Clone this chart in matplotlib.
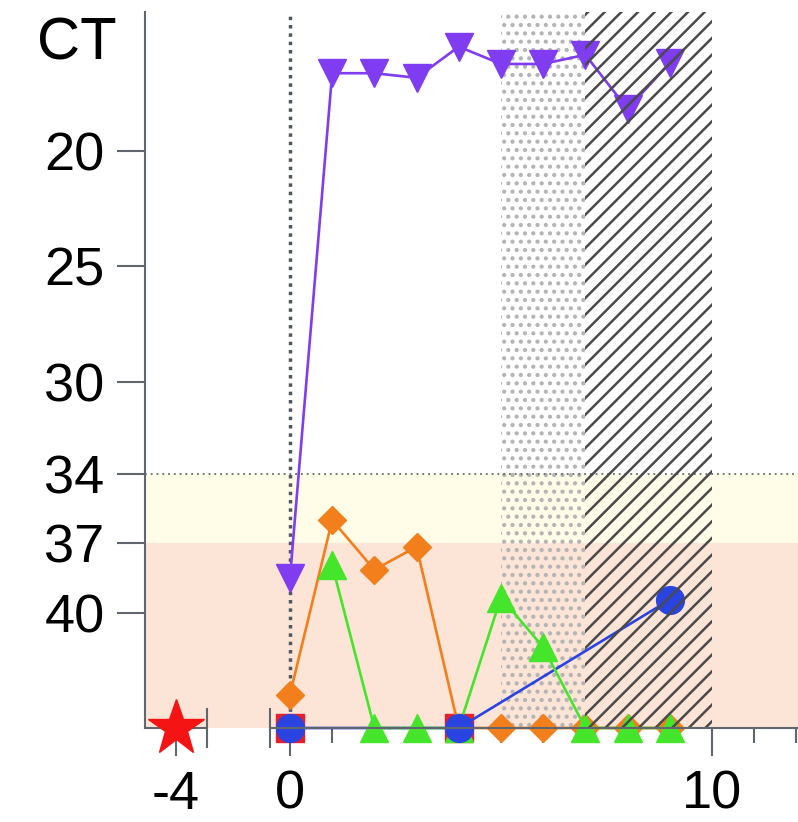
import numpy as np
import matplotlib
matplotlib.use("Agg")
import matplotlib.pyplot as plt

plt.rcParams['font.family'] = ['Liberation Sans', 'DejaVu Sans']

# ---------------- data ----------------
days = [0, 1, 2, 3, 4, 5, 6, 7, 8, 9]
ct_purple = [38.5, 16.65, 16.65, 16.85, 15.5, 16.25, 16.25, 15.85, 18.2, 16.2]
ct_orange = [43.55, 36.0, 38.15, 37.15, 45, 45, 45, 45, 45, 45]
green_days = [1, 2, 3, 4, 5, 6, 7, 8, 9]
ct_green = [37.95, 45, 45, 45, 39.35, 41.5, 45, 45, 45]
blue_days = [0, 4, 9]
ct_blue = [45, 45, 39.45]
red_days = [0, 4]
ct_red = [45, 45]
star_day = [-4]
star_ct = [45]

y_ticks = [20, 25, 30, 34, 37, 40]
x_major = [-4, 0, 10]
x_major_labels = ['-4', '0', '10']
x_minor = [1, 2, 3, 4, 5, 6, 7, 8, 9, 11, 12]
band_yellow = (34, 37)
band_peach = (37, 45)
stipple_span = (5, 7)
hatch_span = (7, 10)

# ---------------- broken x scale ----------------
brk_lo, brk_hi, shift = -3.267, -0.474, 1.30
xs_in = [-100.0, brk_lo, brk_hi, 100.0]
xs_out = [-100.0 + shift, brk_lo + shift, brk_hi, 100.0]


def fwd(x):
    return np.interp(np.asarray(x, float), xs_in, xs_out)


def inv(u):
    return np.interp(np.asarray(u, float), xs_out, xs_in)


fig = plt.figure(figsize=(7.98, 8.22), dpi=100)
ax = fig.add_axes([145 / 798, 1 - 728 / 822, 653 / 798, 716 / 822])
ax.set_xscale('function', functions=(fwd, inv))
ax.set_xlim(-4.736, 12.04)
ax.set_ylim(45, 14)

spc = '#5f666d'
for s in ['top', 'right', 'bottom']:
    ax.spines[s].set_visible(False)
ax.spines['left'].set_color(spc)
ax.spines['left'].set_linewidth(1.5)

# bands
ax.axhspan(*band_yellow, color='#fffde8', lw=0, zorder=0)
ax.axhspan(*band_peach, color='#fce4d7', lw=0, zorder=0)

# stipple
with plt.rc_context({'hatch.linewidth': 1.8}):
    st = ax.axvspan(*stipple_span, facecolor='none', edgecolor='#b4b4b4',
                    hatch='..', lw=0, zorder=1)
    if hasattr(st, 'set_hatch_linewidth'):
        st.set_hatch_linewidth(1.8)

# reference lines
ax.axhline(34, ls=(0, (1, 2.2)), lw=1.3, color='#6a6a6a', zorder=2)
ax.axvline(0, ls=(0, (1, 1.4)), lw=2.5, color='#50565e', zorder=2)

lw = 1.9
# series
ax.plot(red_days, ct_red, ls='none', marker='s', ms=20, color='#e5202a',
        clip_on=False, zorder=3)
ax.plot(days, ct_orange, '-', color='#f27f1b', lw=lw, marker='D', ms=14,
        clip_on=False, zorder=4)
ax.plot(blue_days, ct_blue, '-', color='#2a44e2', lw=lw, clip_on=False, zorder=4.5)
ax.plot(green_days, ct_green, '-', color='#44e52a', lw=lw, marker='^', ms=19.5,
        clip_on=False, zorder=5)
ax.plot(days, ct_purple, '-', color='#7f3cf0', lw=lw, marker='v', ms=19.5,
        clip_on=False, zorder=5.5)
ax.plot(blue_days, ct_blue, ls='none', marker='o', ms=20, color='#2a44e2',
        clip_on=False, zorder=6)

# hatch
with plt.rc_context({'hatch.linewidth': 1.8}):
    ht = ax.axvspan(*hatch_span, facecolor='none', edgecolor='#4a4a4a',
                    hatch='//', lw=0, zorder=7)
    if hasattr(ht, 'set_hatch_linewidth'):
        ht.set_hatch_linewidth(1.8)

# star
ax.plot(star_day, star_ct, ls='none', marker='*', ms=42, color='#f41414',
        clip_on=False, zorder=10)

# broken bottom axis
tr = ax.get_xaxis_transform()
ax.plot([-4.736, brk_lo], [0, 0], color=spc, lw=1.5, transform=tr, clip_on=False, zorder=8)
ax.plot([brk_hi, 12.04], [0, 0], color=spc, lw=1.5, transform=tr, clip_on=False, zorder=8)
for xb in (brk_lo, brk_hi):
    ax.plot([xb, xb], [-0.027, 0.027], color=spc, lw=1.5, transform=tr,
            clip_on=False, zorder=8)

# ticks
ax.set_yticks(y_ticks)
ax.set_yticklabels([str(v) for v in y_ticks])
ax.set_xticks(x_major)
ax.set_xticklabels(x_major_labels)
ax.set_xticks(x_minor, minor=True)
ax.tick_params(axis='y', length=20, width=1.5, color=spc, labelsize=39, pad=9)
ax.tick_params(axis='x', which='major', length=20, width=1.5, color=spc,
               labelsize=39, pad=10)
ax.tick_params(axis='x', which='minor', length=11, width=1.5, color=spc)

fig.text(77 / 798, 1 - 44 / 822, 'CT', fontsize=43, ha='center', va='center')

fig.savefig('out.png', dpi=100)
